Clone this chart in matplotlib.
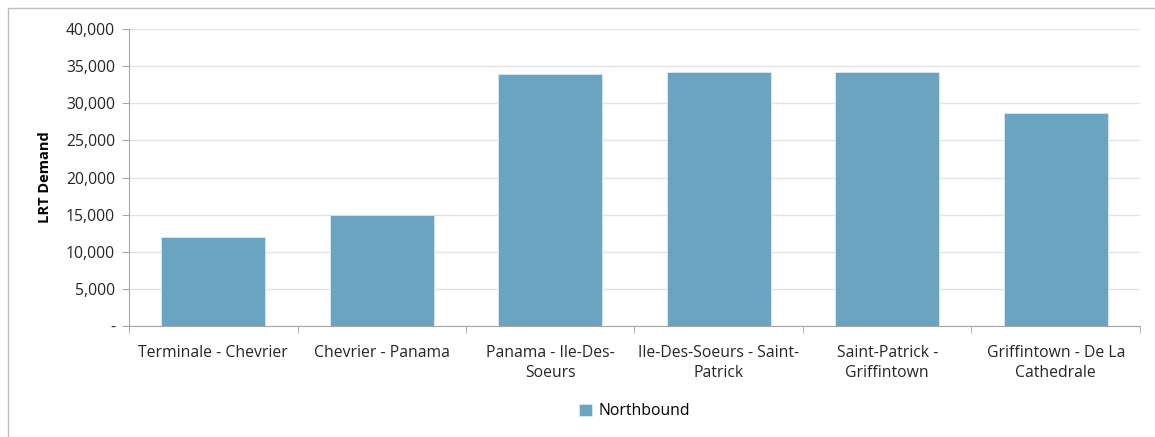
import matplotlib.pyplot as plt
from matplotlib.patches import Rectangle
from matplotlib.ticker import FuncFormatter, FixedLocator
import numpy as np

plt.rcParams["font.family"] = ["Open Sans", "DejaVu Sans"]

segments = [
    "Terminale - Chevrier",
    "Chevrier - Panama",
    "Panama - Ile-Des-\nSoeurs",
    "Ile-Des-Soeurs - Saint-\nPatrick",
    "Saint-Patrick -\nGriffintown",
    "Griffintown - De La\nCathedrale",
]
northbound = [12050, 15000, 34000, 34150, 34150, 28650]

BAR = "#6AA4C0"
GRID = "#E3E3E3"
AXIS = "#A6A6A6"
TEXT = "#262626"

fig = plt.figure(figsize=(11.55, 4.37), dpi=100)
fig.patches.append(Rectangle((0.007, -0.01), 1.0, 0.992, transform=fig.transFigure,
                             fill=False, edgecolor="#BFBFBF", linewidth=1.0))
ax = fig.add_axes([0.1117, 0.254, 0.8753, 0.6796])

x = np.arange(len(segments))
ax.bar(x, northbound, width=0.62, color=BAR, edgecolor="#DCEAF2", linewidth=0.6,
       label="Northbound", zorder=3)

ax.set_xlim(-0.5, len(segments) - 0.5)
ax.set_ylim(0, 40000)
ax.set_yticks(np.arange(0, 40001, 5000))
ax.yaxis.set_major_formatter(FuncFormatter(lambda v, p: "-" if v == 0 else f"{int(v):,}"))
ax.grid(axis="y", color=GRID, linewidth=1.0, zorder=0)

ax.set_xticks(x)
ax.set_xticklabels(segments, fontsize=11.3, color=TEXT, linespacing=1.3)
ax.xaxis.set_minor_locator(FixedLocator(np.arange(-0.5, len(segments), 1.0)))
ax.tick_params(axis="x", which="major", length=0, pad=14)
ax.tick_params(axis="x", which="minor", length=5, color=AXIS, direction="out")
ax.tick_params(axis="y", length=5, color=AXIS, labelsize=11.3, labelcolor=TEXT, pad=5)

for side in ["top", "right"]:
    ax.spines[side].set_visible(False)
for side in ["left", "bottom"]:
    ax.spines[side].set_color(AXIS)

ax.set_ylabel("LRT Demand", fontsize=10.5, fontweight="bold", color="black", labelpad=10)

ax.legend(loc="center", bbox_to_anchor=(0.5, -0.287), frameon=False, fontsize=11.3,
          handlelength=0.8, handleheight=0.8, handletextpad=0.4)

fig.savefig("out.png", dpi=100)
